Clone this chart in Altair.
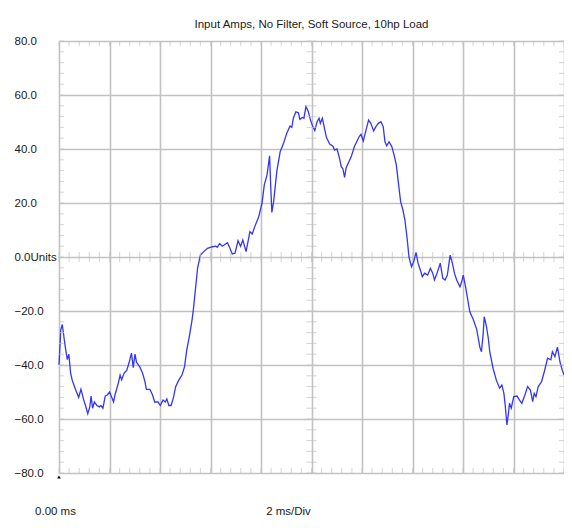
import altair as alt
import pandas as pd
import numpy as np

title_text = "Input Amps, No Filter, Soft Source, 10hp Load"

# time in ms (2 ms/div, 10 divisions), current in Amps ("Units")
time_ms = [0.00, 0.07, 0.13, 0.20, 0.26, 0.33, 0.39, 0.46, 0.52, 0.65, 0.78, 0.87, 0.98, 1.05,
           1.14, 1.22, 1.27, 1.33, 1.40, 1.50, 1.60, 1.66, 1.74, 1.83, 1.92, 2.00, 2.09, 2.16,
           2.22, 2.35, 2.42, 2.48, 2.58, 2.68, 2.78, 2.87, 2.94, 3.01, 3.07, 3.20, 3.31, 3.40,
           3.46, 3.60, 3.70, 3.79, 3.92, 4.01, 4.12, 4.21, 4.27, 4.35, 4.44, 4.54, 4.62, 4.75,
           4.87, 4.97, 5.06, 5.16, 5.27, 5.32, 5.49, 5.60, 5.73, 5.88, 6.08, 6.21, 6.27, 6.36,
           6.47, 6.67, 6.77, 6.86, 6.97, 7.09, 7.19, 7.28, 7.41, 7.56, 7.65, 7.78, 7.91, 8.04,
           8.13, 8.24, 8.34, 8.39, 8.43, 8.50, 8.63, 8.76, 8.89, 9.02, 9.15, 9.22, 9.28, 9.38,
           9.48, 9.54, 9.64, 9.70, 9.78, 9.87, 9.96, 10.04, 10.13, 10.22, 10.30, 10.35, 10.43,
           10.59, 10.72, 10.85, 10.91, 11.01, 11.11, 11.18, 11.24, 11.31, 11.37, 11.57, 11.70,
           11.89, 11.96, 12.05, 12.16, 12.26, 12.35, 12.46, 12.55, 12.65, 12.75, 12.84, 12.91,
           12.98, 13.07, 13.18, 13.27, 13.36, 13.46, 13.53, 13.62, 13.70, 13.79, 13.86, 13.96,
           14.05, 14.14, 14.22, 14.31, 14.39, 14.48, 14.60, 14.71, 14.80, 14.87, 14.97, 15.10,
           15.20, 15.29, 15.38, 15.49, 15.58, 15.66, 15.75, 15.88, 15.95, 16.01, 16.11, 16.18,
           16.27, 16.40, 16.54, 16.67, 16.73, 16.80, 16.84, 16.93, 17.00, 17.06, 17.19, 17.32,
           17.45, 17.54, 17.62, 17.67, 17.74, 17.80, 17.84, 17.91, 18.01, 18.14, 18.24, 18.33,
           18.43, 18.56, 18.67, 18.76, 18.82, 18.89, 18.98, 19.11, 19.22, 19.35, 19.48, 19.54,
           19.64, 19.74, 19.84, 19.93, 20.00]
amps = [-40.0, -27.0, -25.0, -30.0, -34.0, -38.0, -36.0, -43.0, -45.5, -49.0, -52.0, -49.0, -53.0, -55.0,
        -58.0, -55.5, -51.5, -56.0, -53.7, -55.0, -55.5, -55.0, -56.0, -51.5, -51.0, -50.0, -52.0, -53.7,
        -51.0, -46.7, -43.7, -45.5, -43.0, -42.0, -39.0, -35.6, -41.0, -36.0, -39.0, -40.7, -43.0, -46.0,
        -49.0, -49.0, -51.0, -53.7, -53.7, -55.0, -53.0, -53.7, -52.6, -55.0, -55.0, -51.8, -48.0, -45.5,
        -43.7, -40.7, -34.4, -29.6, -23.3, -19.6, -4.0, 0.7, 2.0, 3.2, 3.8, 4.0, 3.6, 5.0,
        4.0, 5.3, 3.2, 1.1, 1.4, 6.0, 4.0, 6.3, 2.0, 9.4, 8.5, 11.9, 14.9, 19.9,
        26.7, 30.4, 37.5, 25.0, 16.5, 20.5, 32.0, 39.0, 42.0, 45.8, 48.5, 48.0, 51.4, 53.8,
        53.4, 51.0, 51.7, 51.4, 55.7, 54.0, 50.7, 48.6, 46.8, 50.1, 51.4, 49.5, 51.4,
        44.3, 41.8, 41.0, 39.6, 40.0, 36.5, 33.4, 32.8, 29.5, 33.0, 37.1, 40.9,
        44.6, 45.4, 43.0, 47.0, 50.7, 49.5, 46.7, 48.3, 49.5, 50.1, 48.3, 42.7,
        41.2, 42.7, 40.9, 37.8, 34.0, 26.0, 20.5, 17.4, 13.7, 6.6, 0.0, -3.6,
        -1.7, 1.7, -2.3, -4.8, -7.3, -6.0, -6.7, -4.2, -6.0, -8.5, -6.0, -2.3,
        -7.9, -8.5, -6.7, 0.7, -2.3, -6.0, -8.5, -11.0, -9.1, -6.7, -11.5, -15.3,
        -20.3, -23.0, -26.7, -33.5, -35.1, -28.3, -22.1, -25.8, -30.0, -35.1, -41.2, -45.6,
        -48.6, -47.4, -50.5, -54.8, -62.2, -57.9, -54.2, -56.0, -51.7, -51.5, -53.0, -54.2,
        -51.7, -48.0, -49.3, -53.6, -50.5, -51.7, -48.0, -46.2, -42.5, -37.5, -38.1, -35.1,
        -36.9, -33.4, -38.8, -41.9, -43.7]

major_time_ticks = list(range(0, 21, 2))
major_amp_ticks = list(range(-80, 81, 20))
minor_time_ticks = [round(v, 1) for v in np.arange(0, 20.01, 0.4)]
minor_amp_ticks = [int(v) for v in np.arange(-80, 80.01, 4)]
origin_marker_t = [0]
origin_marker_a = [-80]

FONT = "Liberation Sans, Arial, sans-serif"
GRID = "#c2c2c2"
TXT = "#1a1a1a"

xs = alt.Scale(domain=[0, 20], nice=False, zero=False)
ys = alt.Scale(domain=[-80, 80], nice=False, zero=False)

x_axis = alt.Axis(values=major_time_ticks, grid=True, gridColor=GRID, gridWidth=1.6,
                  domain=False, ticks=False, tickSize=0, labelOverlap=False, labelFlush=False,
                  labelExpr="datum.value == 0 ? '0.00 ms' : ''", labelAlign="center",
                  labelBaseline="middle", labelPadding=38, labelOffset=-4,
                  labelFont=FONT, labelFontSize=11.5, labelColor=TXT,
                  title="2 ms/Div", titleX=229, titleY=38, titleBaseline="middle",
                  titleAlign="center", titleAnchor="start", titleFont=FONT, titleFontSize=11.5,
                  titleFontWeight="normal", titleColor=TXT)
y_axis = alt.Axis(values=major_amp_ticks, grid=True, gridColor=GRID, gridWidth=1.6,
                  domain=False, ticks=False, tickSize=0, labelOverlap=False, labelFlush=False,
                  labelExpr="datum.value == 0 ? '0.0Units' : format(datum.value, '.1f')",
                  labelAlign="left", labelBaseline="middle", labelPadding=45,
                  labelFont=FONT, labelFontSize=11.5, labelColor=TXT, title=None)

X = alt.X("t:Q", scale=xs, axis=x_axis)
Y = alt.Y("a:Q", scale=ys, axis=y_axis)

wave = pd.DataFrame({"t": time_ms, "a": amps})
base_line = alt.Chart(wave).mark_line(color="#3535f5", strokeWidth=1.3).encode(x=X, y=Y)


def vticks(yval, offset, size):
    df = pd.DataFrame({"t": minor_time_ticks, "a": [yval] * len(minor_time_ticks)})
    return alt.Chart(df).mark_tick(orient="vertical", size=size, thickness=1,
                                   color=GRID, yOffset=offset).encode(x=X, y=Y)


def hticks(xval, offset, size):
    df = pd.DataFrame({"t": [xval] * len(minor_amp_ticks), "a": minor_amp_ticks})
    return alt.Chart(df).mark_tick(orient="horizontal", size=size, thickness=1,
                                   color=GRID, xOffset=offset).encode(x=X, y=Y)


top_t = vticks(80, 2.5, 5)
bot_t = vticks(-80, -2.5, 5)
mid_t = vticks(0, 0, 10)
left_t = hticks(0, 2.5, 5)
right_t = hticks(20, -2.5, 5)
mid_v = hticks(10, 0, 10)

marker = alt.Chart(pd.DataFrame({"t": origin_marker_t, "a": origin_marker_a})).mark_point(
    shape="triangle-up", filled=True, color="black", size=14, opacity=1, yOffset=4
).encode(x=X, y=Y)

chart = alt.layer(base_line, top_t, bot_t, mid_t, left_t, right_t, mid_v, marker).properties(
    width=505, height=432,
    autosize=alt.AutoSizeParams(type="none"),
    padding={"left": 51, "top": 33, "right": 0, "bottom": 45},
    title=alt.TitleParams(title_text, font=FONT, fontSize=11.5, fontWeight="normal",
                          color=TXT, anchor="middle", offset=15, dy=19, baseline="alphabetic"),
    background="white",
).configure_view(stroke=None)

chart.save("out.html", embed_options={"renderer": "svg", "actions": False})
